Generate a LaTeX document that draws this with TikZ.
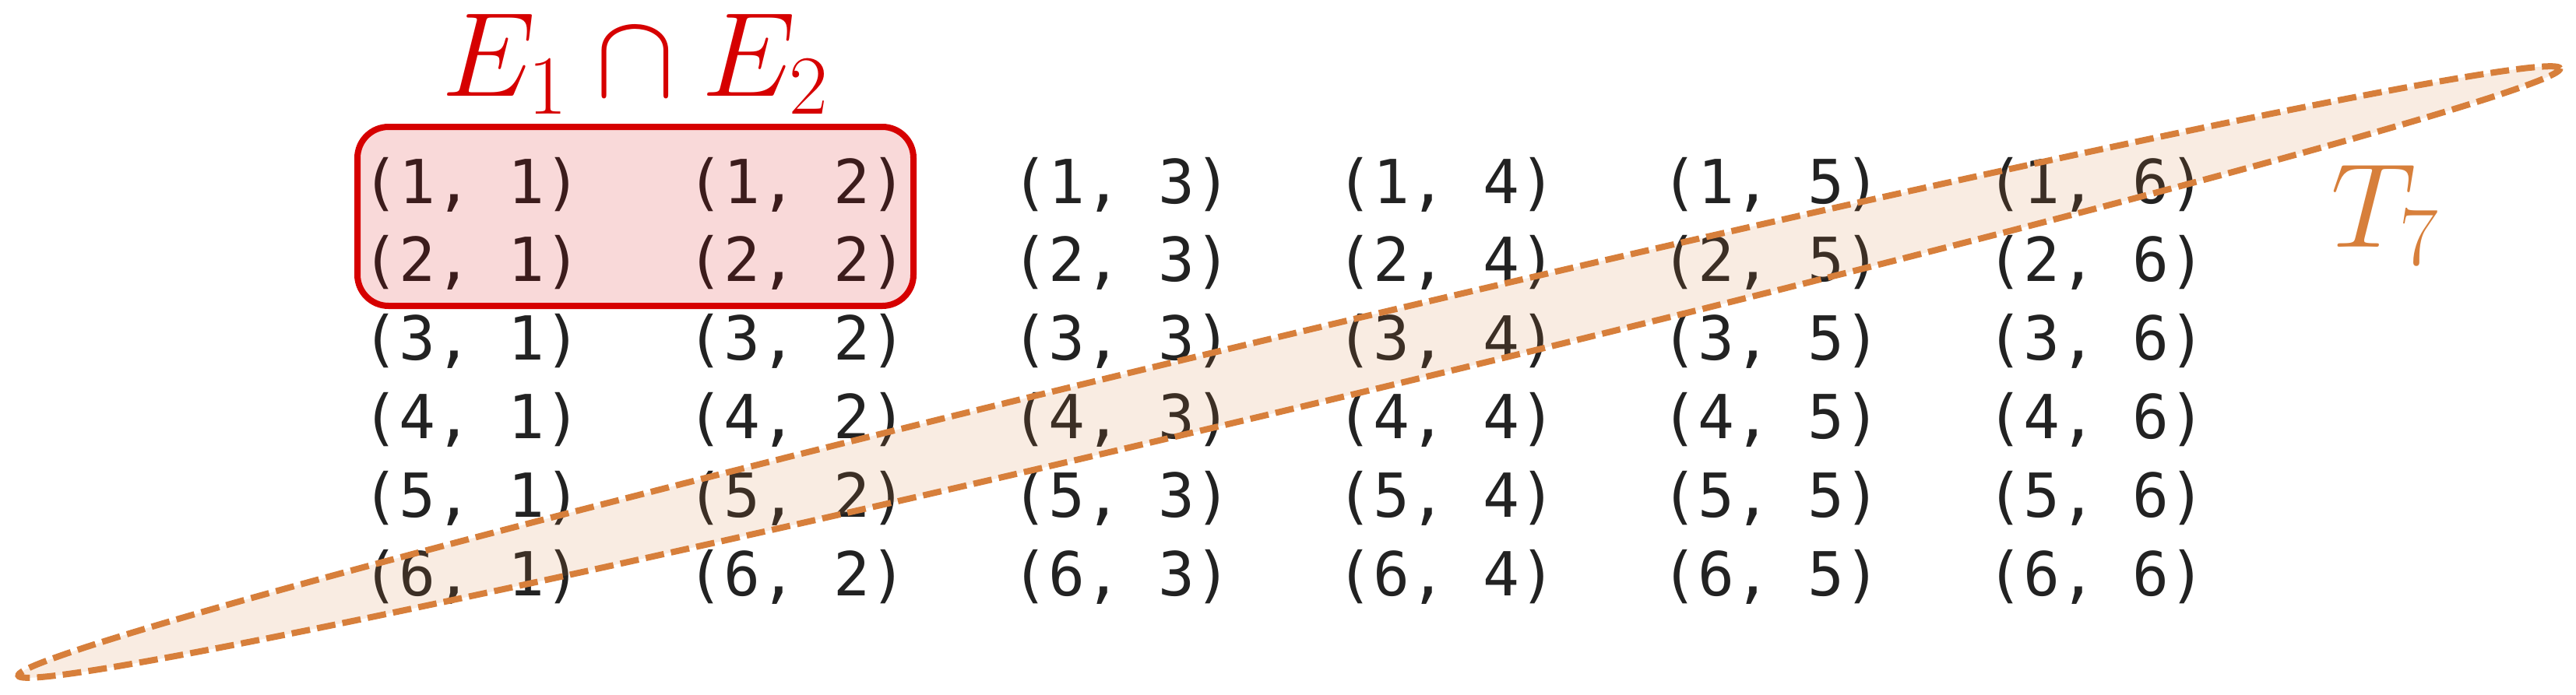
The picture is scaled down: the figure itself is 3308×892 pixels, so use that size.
\RequirePackage{fix-cm}
\documentclass[tikz,border=0pt]{standalone}
\usepackage{fontspec}
\setmonofont{DejaVu Sans Mono}
\DeclareMathSizes{38.5}{38.5}{27}{19.25}
\usetikzlibrary{shapes.geometric}
\definecolor{boxred}{RGB}{214,0,0}
\definecolor{torange}{RGB}{215,127,59}
\definecolor{cellink}{RGB}{34,34,34}
\begin{document}
\begin{tikzpicture}[x=0.25pt,y=-0.25pt,
  cell/.style={inner sep=0pt, text=cellink, font=\fontsize{19.5}{22}\ttfamily},
  mathlabel/.style={inner sep=0pt, anchor=base, font=\fontsize{38.5}{42}\selectfont},
  redbox/.style={draw=boxred, line width=2pt, fill=boxred, fill opacity=0.15,
    draw opacity=1, rounded corners=10pt, inner sep=0pt},
  tset/.style={ellipse, draw=torange, line width=2pt, fill=torange, fill opacity=0.15,
    draw opacity=1, dash pattern=on 6pt off 2.3pt, inner sep=0pt}]
\useasboundingbox (0,0) rectangle (3308,892);
\foreach \r in {1,...,6}{
  \foreach \c in {1,...,6}{
    \node[cell] (p\r\c) at ({606+417.2*(\c-1)},{237+100.8*(\r-1)}) {(\r, \c)};
  }
}
\node[redbox, minimum width=178.5pt, minimum height=57.5pt] (box) at (816,278) {};
\node[mathlabel, text=boxred] (elabel) at (816,123) {$E_1 \cap E_2$};
\node[tset, minimum width=839pt, minimum height=23.5pt, rotate=13.445] (tseven) at (1655.5,478) {};
\node[mathlabel, text=torange] (tlabel) at (3063,317) {$T_7$};
\end{tikzpicture}
\end{document}
